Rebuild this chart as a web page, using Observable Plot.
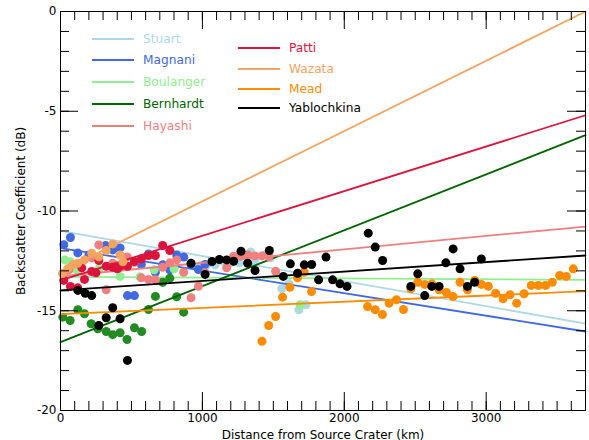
<!DOCTYPE html>
<html>
<head>
<meta charset="utf-8">
<script src="https://cdn.jsdelivr.net/npm/d3@7"></script>
<script src="https://cdn.jsdelivr.net/npm/@observablehq/plot@0.6"></script>
</head>
<body style="margin:0">
<div id="wrap" style="position:relative"></div>
<script>
// ---- data: [distance km, backscatter dB] ----
const stuart = [[820,-12.35],[980,-12.75],[1030,-12.7],[1090,-12.7],[1150,-12.55],[1200,-12.6],[1260,-12.6],[1340,-12.05],[1370,-12.45],[1440,-12.2],[1480,-12.35],[1560,-13.9],[1610,-13.65],[1680,-14.95],[1730,-14.7]];
const magnani = [[23,-11.69],[70,-11.33],[122,-12.1],[200,-12.2],[319,-11.73],[369,-11.95],[420,-11.85],[472,-14.24],[521,-14.24],[570,-12.68],[620,-12.15],[669,-13.07],[721,-12.7],[770,-12.95],[819,-12.2],[869,-12.31],[920,-12.7],[972,-12.93],[1019,-12.68]];
const boulanger = [[30,-12.45],[70,-12.55],[120,-13.0],[270,-12.9],[420,-13.28],[560,-13.3],[660,-12.95],[800,-12.9],[1690,-14.7]];
const bernhardt = [[16,-15.32],[68,-15.49],[122,-14.95],[169,-15.15],[216,-15.65],[263,-15.9],[322,-16.04],[368,-16.2],[420,-16.1],[469,-16.44],[521,-15.85],[572,-16.04],[620,-14.94],[669,-14.28],[720,-13.57],[770,-13.37],[819,-14.3],[868,-15.07]];
const hayashi = [[23,-13.2],[60,-12.95],[220,-12.35],[270,-11.7],[322,-13.95],[368,-12.62],[420,-12.82],[470,-12.3],[521,-12.57],[570,-13.35],[620,-13.43],[669,-13.45],[720,-12.82],[770,-12.6],[819,-12.45],[868,-13.07],[920,-14.35],[972,-13.77],[1020,-13.1],[1171,-12.85],[1220,-12.27],[1270,-12.25],[1320,-12.2],[1370,-12.25],[1420,-12.25],[1470,-12.3],[1516,-13.02]];
const patti = [[23,-13.48],[70,-13.78],[122,-13.85],[150,-12.85],[169,-13.43],[220,-13.03],[250,-13.1],[270,-12.48],[322,-12.77],[368,-12.82],[400,-12.9],[420,-12.77],[472,-12.77],[521,-12.53],[570,-12.4],[620,-12.23],[669,-12.23],[720,-11.73],[770,-11.98]];
const wazata = [[14,-13.13],[50,-12.9],[85,-12.7],[122,-12.62],[169,-12.45],[220,-12.12],[270,-12.3],[322,-11.98],[369,-11.65],[420,-12.2],[440,-12.55]];
const mead = [[1420,-16.53],[1467,-15.74],[1516,-15.29],[1565,-14.32],[1617,-13.82],[1671,-13.35],[1718,-13.07],[1769,-14.04],[2164,-14.79],[2218,-14.95],[2269,-15.19],[2316,-14.62],[2368,-14.45],[2417,-14.94],[2469,-13.9],[2518,-13.57],[2567,-13.68],[2617,-13.65],[2668,-13.95],[2720,-14.08],[2767,-14.29],[2816,-13.57],[2868,-13.95],[2919,-13.48],[2966,-13.68],[3015,-13.77],[3067,-14.12],[3119,-14.4],[3168,-14.2],[3215,-14.62],[3267,-14.15],[3318,-13.73],[3368,-13.73],[3419,-13.73],[3466,-13.57],[3518,-13.23],[3565,-13.28],[3614,-12.9]];
const yablochkina = [[122,-13.98],[174,-14.12],[220,-14.24],[270,-15.74],[322,-15.35],[368,-14.85],[420,-15.4],[472,-17.49],[920,-12.62],[1019,-13.18],[1068,-12.53],[1120,-12.43],[1171,-12.45],[1220,-12.52],[1272,-12.02],[1319,-12.62],[1371,-12.98],[1472,-11.98],[1570,-13.28],[1620,-12.65],[1671,-13.12],[1718,-12.7],[1770,-12.68],[1819,-13.45],[1871,-12.31],[1918,-13.45],[1970,-13.65],[2019,-13.78],[2169,-11.11],[2218,-11.81],[2270,-12.48],[2469,-13.78],[2518,-13.15],[2567,-14.24],[2617,-13.78],[2668,-13.78],[2716,-12.6],[2767,-11.9],[2816,-12.9],[2868,-13.78],[2919,-13.57],[2966,-12.4]];

// series names, colours, and fitted trend line values at the domain ends (0 km and 3700 km)
const names = ["Stuart","Magnani","Boulanger","Bernhardt","Hayashi","Patti","Wazata","Mead","Yablochkina"];
const pointData = [stuart, magnani, boulanger, bernhardt, hayashi, patti, wazata, mead, yablochkina];
const lineColors = ["lightblue","royalblue","lightgreen","darkgreen","lightcoral","crimson","sandybrown","darkorange","black"];
const dotColors = ["lightblue","royalblue","lightgreen","forestgreen","lightcoral","crimson","sandybrown","darkorange","black"];
const fitStartKm = 0, fitEndKm = 3700;
const fitStart = [-11.0, -11.86, -13.3, -16.57, -13.27, -13.48, -13.03, -15.17, -13.98];
const fitEnd = [-15.65, -16.04, -13.45, -6.2, -10.78, -5.2, 0.0, -14.02, -12.23];

const xMajor = [0, 1000, 2000, 3000];
const xMinor = d3.range(0, 3701, 100);
const yMajor = [-20, -15, -10, -5, 0];
const yMinor = d3.range(-20, 1, 1);

const W = 589, H = 440, ML = 60, MR = 4, MT = 11, MB = 30;
const PW = W - ML - MR, PH = H - MT - MB;   // frame size in px
const MAJ = 18, MIN = 9;                      // inward tick lengths

function inwardTicks(xs, ys, len) {
  return [
    Plot.tickX(xs, {x: d => d, insetTop: PH - len, stroke: "black"}),
    Plot.tickX(xs, {x: d => d, insetBottom: PH - len, stroke: "black"}),
    Plot.tickY(ys, {y: d => d, insetRight: PW - len, stroke: "black"}),
    Plot.tickY(ys, {y: d => d, insetLeft: PW - len, stroke: "black"})
  ];
}

const seriesMarks = [];
names.forEach((name, i) => {
  const pts = pointData[i].map(([km, db]) => ({km, db}));
  seriesMarks.push(Plot.dot(pts, {x: "km", y: "db", r: 4.5, fill: dotColors[i]}));
  seriesMarks.push(Plot.line([{km: fitStartKm, db: fitStart[i]}, {km: fitEndKm, db: fitEnd[i]}],
    {x: "km", y: "db", stroke: lineColors[i], strokeWidth: 1.8}));
});

const chart = Plot.plot({
  width: W,
  height: H,
  marginLeft: ML,
  marginRight: MR,
  marginTop: MT,
  marginBottom: MB,
  style: {fontFamily: "DejaVu Sans", fontSize: "12px", color: "black", background: "white"},
  x: {domain: [0, 3700], ticks: xMajor, tickSize: 0, tickPadding: 3, tickFormat: d => String(d),
      label: "Distance from Source Crater (km)", labelAnchor: "center", labelArrow: "none", labelOffset: 28},
  y: {domain: [-20, 0], ticks: yMajor, tickSize: 0, tickPadding: 4, tickFormat: d => String(d),
      label: "Backscatter Coefficient (dB)", labelAnchor: "center", labelArrow: "none", labelOffset: 44},
  marks: [
    ...seriesMarks,
    ...inwardTicks(xMinor, yMinor, MIN),
    ...inwardTicks(xMajor, yMajor, MAJ),
    Plot.frame()
  ]
});

const wrap = document.getElementById("wrap");
wrap.appendChild(chart);

// legend (two columns inside the plot area)
const legendCols = [[0,1,2,3,4],[5,6,7,8]];
const colLeft = [92, 238];
const colTop = [[39,60,82,104,126],[48,69,89,108]];
legendCols.forEach((col, c) => {
  col.forEach((i, r) => {
    const div = document.createElement("div");
    div.style.cssText = `position:absolute;left:${colLeft[c]}px;top:${colTop[c][r] - 8}px;font-family:'DejaVu Sans',sans-serif;font-size:12.2px;display:flex;align-items:center;white-space:nowrap;color:${lineColors[i]}`;
    div.innerHTML = `<svg width="42" height="16" style="margin-right:9px"><line x1="0" x2="42" y1="8" y2="8" stroke="${lineColors[i]}" stroke-width="1.8"/></svg><span>${names[i]}</span>`;
    wrap.appendChild(div);
  });
});
</script>
</body>
</html>
